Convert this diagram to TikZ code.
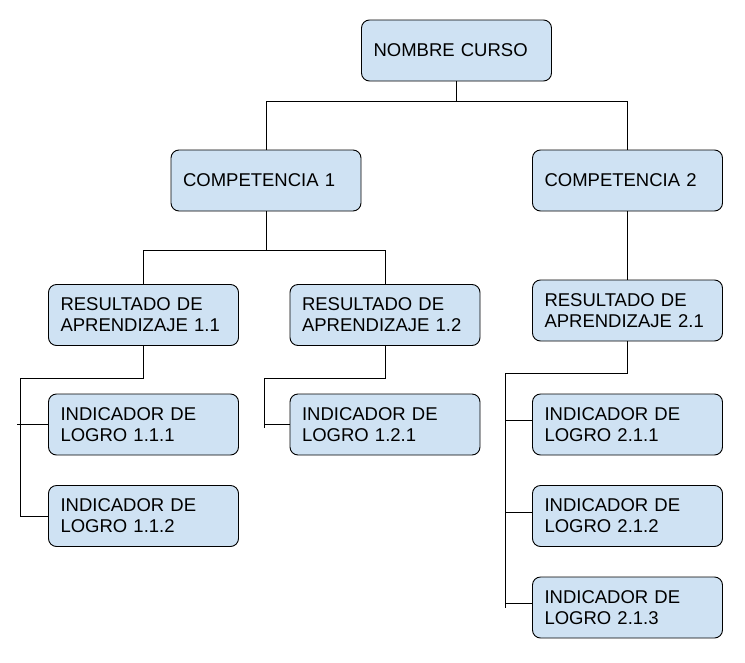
\documentclass[tikz,border=0pt]{standalone}
\usepackage{fontspec}
\setmainfont{Liberation Sans}
\definecolor{cajaazul}{HTML}{CFE2F3}
\begin{document}
\begin{tikzpicture}[
        x=1pt, y=-1pt,
        caja/.style={draw=black, fill=cajaazul, rounded corners=8pt, line width=0.9pt,
            text width=166pt, inner xsep=12pt, inner ysep=0pt, minimum height=61pt,
            align=left, font=\fontsize{18.5}{21}\selectfont},
        enlace/.style={draw=black, line width=0.9pt}
    ]
        \useasboundingbox (0,0) rectangle (745,662);

        % Nodos del curso
        \node [caja] (nombre) at (456.5,50.5) {NOMBRE CURSO};
        \node [caja] (comp1) at (266,180.5) {COMPETENCIA 1};
        \node [caja] (comp2) at (627.5,180.5) {COMPETENCIA 2};

        \node [caja] (res11) at (143.5,315) {RESULTADO DE\\APRENDIZAJE 1.1};
        \node [caja] (res12) at (385,315) {RESULTADO DE\\APRENDIZAJE 1.2};
        \node [caja] (res21) at (627.5,310.5) {RESULTADO DE\\APRENDIZAJE 2.1};

        \node [caja] (ind111) at (143.5,424.5) {INDICADOR DE\\LOGRO 1.1.1};
        \node [caja] (ind112) at (143.5,516) {INDICADOR DE\\LOGRO 1.1.2};
        \node [caja] (ind121) at (385,424.5) {INDICADOR DE\\LOGRO 1.2.1};
        \node [caja] (ind211) at (627.5,424.5) {INDICADOR DE\\LOGRO 2.1.1};
        \node [caja] (ind212) at (627.5,516) {INDICADOR DE\\LOGRO 2.1.2};
        \node [caja] (ind213) at (627.5,607.5) {INDICADOR DE\\LOGRO 2.1.3};

        % Conexiones
        \draw [enlace] (nombre.south) -- ++(0,20) coordinate (b0);
        \draw [enlace] (comp1.north) |- (b0) -| (comp2.north);

        \draw [enlace] (comp1.south) -- ++(0,39) coordinate (b1);
        \draw [enlace] (res11.north) |- (b1) -| (res12.north);
        \draw [enlace] (comp2.south) -- (res21.north);

        \draw [enlace] (res11.south) -- ++(0,32) -| ([xshift=-28pt]ind112.west) -- (ind112.west);
        \draw [enlace] ([xshift=-31pt]ind111.west) -- (ind111.west);

        \draw [enlace] (res12.south) -- ++(0,32) -| ([xshift=-25pt,yshift=-3pt]ind121.west);
        \draw [enlace] ([xshift=-25pt]ind121.west) -- (ind121.west);

        \draw [enlace] (res21.south) -- ++(0,32) -| ([xshift=-27pt]ind213.west);
        \foreach \n in {ind211,ind212,ind213}
            \draw [enlace] ([xshift=-27pt,yshift=4pt]\n.west) -- ([yshift=4pt]\n.west);
    \end{tikzpicture}
\end{document}
